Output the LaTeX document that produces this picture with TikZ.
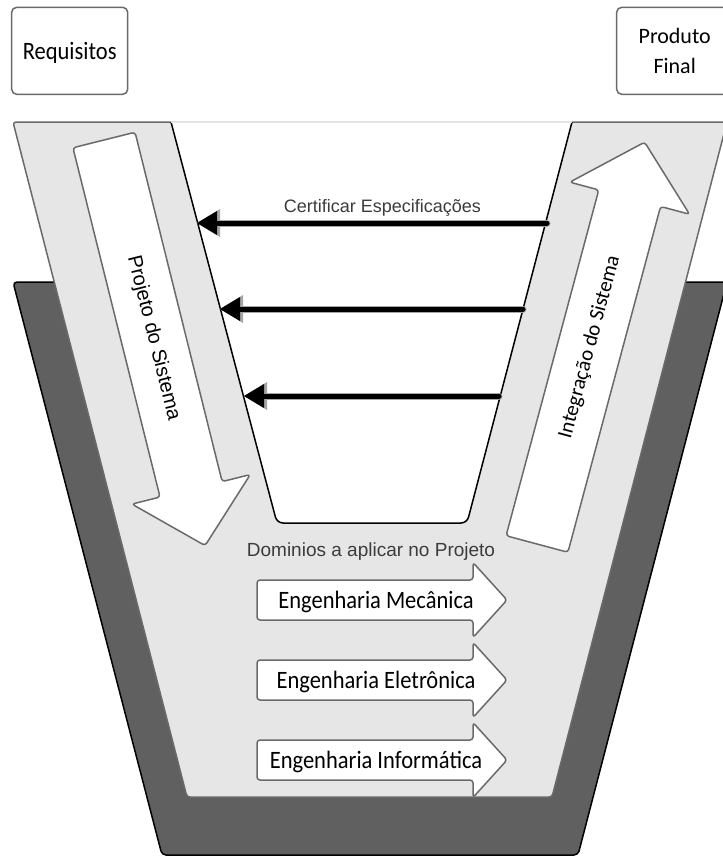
\documentclass[tikz,border=0pt]{standalone}
\usepackage{fontspec}
\setmainfont{Liberation Sans}
\newfontfamily\calfont{Carlito}
\newfontfamily\condfont[FakeStretch=0.9]{Carlito}
\usetikzlibrary{arrows.meta}

\definecolor{armgray}{HTML}{E6E6E6}
\definecolor{basegray}{HTML}{606060}
\definecolor{edgegray}{HTML}{6A6A6A}
\definecolor{notegray}{HTML}{3C3C3C}

\begin{document}
\begin{tikzpicture}[x=1pt, y=-1pt, line join=round,
    stagebox/.style={draw=edgegray, line width=1.5pt, rounded corners=5pt, fill=white,
        minimum width=116pt, minimum height=87pt, align=center, inner sep=0pt},
    blockarrow/.style={draw=edgegray, line width=1.5pt, rounded corners=3pt, fill=white},
    certhalo/.style={line width=7pt, draw=gray!70, line cap=round,
        -{Triangle[length=23pt, width=28pt, line width=0pt]}},
    certarrow/.style={line width=5pt, line cap=round,
        -{Triangle[length=20pt, width=24pt, line width=0pt]}}]

    \useasboundingbox (0,0) rectangle (723,857);
    \fill[white] (0,0) rectangle (723,857);
    \clip (0,0) rectangle (723,857);

    \filldraw[fill=basegray, draw=black, line width=1.5pt, rounded corners=4pt]
        (13,282) -- (727,282) -- (578,855) -- (162,855) -- cycle;
    \filldraw[fill=armgray, draw=edgegray, line width=1.5pt, rounded corners=3pt]
        (13,122) -- (727,122) -- (552,797) -- (187,797) -- cycle;

    \coordinate (vtl) at (171,122);
    \coordinate (vtr) at (572,122);
    \filldraw[fill=white, draw=black, line width=1.5pt, rounded corners=6pt]
        (vtl) -- (277,523) -- (467,523) -- (vtr);
    \draw[gray!20, line width=1.6pt] (vtl) -- (vtr);

    \node[stagebox, text depth=0pt, font=\condfont\fontsize{25}{30}\selectfont] (req) at (69.7,50.8) {Requisitos};
    \node[stagebox, font=\calfont\fontsize{22}{30}\selectfont] (prod) at (674.7,50.8) {Produto\\Final};

    \begin{scope}[shift={(104,140)}, rotate=-76]
        \draw[blockarrow] (0,-32) -- (360,-32) -- (360,-61) -- (418,0) -- (360,61) -- (360,32) -- (0,32) -- cycle;
        \node[rotate=-76, font=\fontsize{20}{24}\selectfont] (proj) at (204,0) {Projeto do Sistema};
    \end{scope}

    \begin{scope}[shift={(537,544)}, rotate=75]
        \draw[blockarrow] (0,-32) -- (358,-32) -- (358,-62) -- (416,0) -- (358,62) -- (358,32) -- (0,32) -- cycle;
        \node[rotate=75, font=\calfont\fontsize{21}{25}\selectfont] (integ) at (204,0) {Integração do Sistema};
    \end{scope}

    \coordinate (specR1) at (547,223);
    \coordinate (specL1) at (197,223);
    \coordinate (specR2) at (523,309);
    \coordinate (specL2) at (220,309);
    \coordinate (specR3) at (499,396);
    \coordinate (specL3) at (244,396);
    \foreach \i in {1,2,3}{
        \draw[certhalo] (specR\i) -- (specL\i);
        \draw[certarrow] (specR\i) -- (specL\i);
    }
    \node[anchor=base, text=notegray, font=\fontsize{18}{22}\selectfont] (cert) at (382.5,212) {Certificar Especificações};

    \node[anchor=base, text=notegray, font=\fontsize{19}{23}\selectfont] (dom) at (371,556.7) {Dominios a aplicar no Projeto};

    \foreach \yy/\nm/\txt in {600/mec/Engenharia Mecânica, 680/ele/Engenharia Eletrônica, 760/inf/Engenharia Informática}{
        \draw[blockarrow] (257,\yy-20) -- (473,\yy-20) -- (473,\yy-37.5) -- (507,\yy) -- (473,\yy+37.5) -- (473,\yy+20) -- (257,\yy+20) -- cycle;
        \node[anchor=base, font=\condfont\fontsize{25}{30}\selectfont] (\nm) at (376,\yy+8) {\txt};
    }
\end{tikzpicture}
\end{document}
